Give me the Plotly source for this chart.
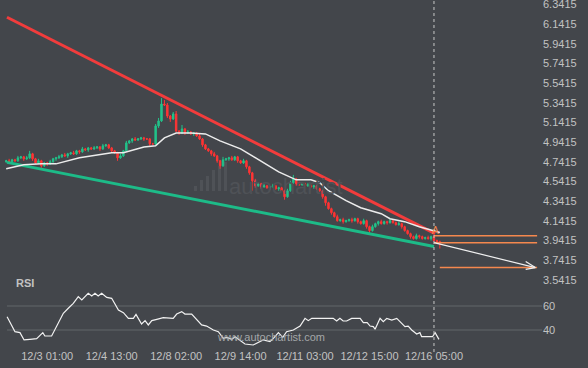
import plotly.graph_objects as go

# ---------------- data ----------------
first_open = 4.742
closes = [
    4.752, 4.742, 4.762, 4.752, 4.782, 4.792, 4.772, 4.782, 4.823, 4.772,
    4.731, 4.752, 4.701, 4.731, 4.721, 4.742, 4.772, 4.782, 4.792, 4.812,
    4.802, 4.823, 4.833, 4.823, 4.853, 4.843, 4.873, 4.863, 4.883, 4.873,
    4.883, 4.893, 4.873, 4.904, 4.914, 4.883, 4.853, 4.833, 4.782, 4.802,
    4.853, 4.934, 4.954, 4.974, 4.964, 4.974, 4.985, 4.974, 4.974, 4.924,
    4.924, 5.106, 5.157, 5.329, 5.319, 5.207, 5.177, 5.228, 5.055, 5.035,
    5.076, 5.035, 5.045, 5.025, 5.035, 5.005, 4.974, 4.914, 4.873, 4.853,
    4.823, 4.802, 4.752, 4.701, 4.762, 4.772, 4.782, 4.762, 4.792, 4.752,
    4.731, 4.752, 4.691, 4.630, 4.549, 4.498, 4.519, 4.488, 4.498, 4.478,
    4.488, 4.498, 4.468, 4.478, 4.448, 4.387, 4.448, 4.529, 4.569, 4.519,
    4.509, 4.519, 4.498, 4.509, 4.488, 4.498, 4.468, 4.448, 4.387, 4.326,
    4.266, 4.225, 4.185, 4.144, 4.154, 4.134, 4.144, 4.154, 4.144, 4.164,
    4.134, 4.114, 4.144, 4.083, 4.043, 4.083, 4.114, 4.134, 4.114, 4.134,
    4.124, 4.144, 4.124, 4.104, 4.114, 4.083, 4.043, 4.012, 3.982, 3.962,
    3.992, 3.982, 3.962, 3.972, 3.962, 3.982, 3.942, 3.931, 3.921,
]
wick_hi = [
    .01, .02, .01, .01, .02, .01, .01, .02, .03, .01,
    .01, .02, .01, .01, .01, .02, .01, .01, .02, .01,
    .02, .01, .01, .02, .01, .01, .02, .01, .01, .01,
    .02, .01, .01, .02, .01, .01, .01, .01, .01, .02,
    .01, .02, .01, .01, .02, .01, .01, .01, .01, .01,
    .01, .02, .03, .06, .04, .02, .01, .02, .03, .01,
    .04, .01, .02, .01, .01, .01, .02, .01, .01, .01,
    .01, .02, .01, .01, .03, .01, .01, .02, .01, .01,
    .01, .02, .01, .01, .01, .02, .01, .01, .02, .01,
    .01, .02, .01, .01, .01, .01, .02, .02, .04, .01,
    .02, .01, .01, .02, .01, .01, .01, .01, .01, .01,
    .01, .01, .01, .02, .01, .02, .01, .01, .02, .01,
    .01, .01, .02, .01, .01, .02, .01, .01, .02, .01,
    .01, .02, .01, .01, .02, .01, .01, .01, .01, .01,
    .02, .01, .01, .01, .02, .01, .01, .01, .01,
]
wick_lo = [
    .01, .01, .02, .01, .01, .01, .02, .01, .01, .02,
    .01, .01, .02, .01, .02, .01, .01, .02, .01, .01,
    .01, .02, .01, .01, .01, .02, .01, .01, .02, .01,
    .01, .01, .02, .01, .01, .01, .02, .01, .03, .01,
    .01, .01, .01, .02, .01, .01, .01, .02, .01, .02,
    .01, .01, .02, .01, .01, .02, .03, .01, .01, .02,
    .01, .02, .01, .01, .02, .01, .01, .02, .01, .01,
    .02, .01, .02, .03, .01, .01, .02, .01, .01, .02,
    .01, .01, .02, .02, .10, .02, .01, .02, .01, .01,
    .02, .01, .01, .02, .01, .03, .01, .01, .01, .02,
    .01, .01, .02, .01, .01, .02, .01, .01, .02, .03,
    .01, .02, .01, .01, .01, .02, .01, .01, .02, .01,
    .02, .01, .01, .02, .03, .01, .01, .02, .01, .01,
    .02, .01, .01, .01, .01, .02, .01, .01, .02, .01,
    .01, .02, .01, .01, .01, .02, .01, .01, .06,
]

ma_x = [0, 6, 12, 17, 25, 32, 36, 40, 47, 51, 54, 58, 63, 68, 73, 80, 87, 93,
        99, 104, 107, 110, 116, 121, 128, 131, 136, 141, 148]
ma_v = [4.671, 4.711, 4.721, 4.721, 4.782, 4.812, 4.833, 4.833, 4.893, 4.904,
        4.985, 5.035, 5.035, 5.025, 4.954, 4.873, 4.752, 4.640, 4.559, 4.559,
        4.529, 4.448, 4.347, 4.276, 4.215, 4.164, 4.134, 4.083, 4.023]

rsi_x = [0.3, 3, 4.7, 6.1, 8.1, 10.4, 12.5, 13.2, 15.5, 17.8, 19.5, 21.2, 22.9,
         24.6, 25.8, 28, 29.2, 30.3, 31.4, 32.6, 34.3, 36, 38.3, 40, 41.7, 43.4,
         44.3, 46.2, 47.4, 48.5, 49.7, 51.4, 53.6, 57, 58.2, 59.9, 61, 63.3, 65,
         66.7, 68.4, 69.6, 70.7, 72.4, 74.1, 75.3, 77, 78.1, 79.8, 81.5, 84.3,
         87.7, 90, 91.2, 92.9, 94.4, 95.7, 98, 100.3, 102, 103.1, 104.3, 111.6,
         112.8, 113.9, 115, 116.2, 117.9, 120.8, 121.9, 123.2, 124.2, 125.3,
         125.9, 127.6, 128.7, 129.9, 131.6, 133.3, 134.4, 136.1, 137.2, 138.4,
         140.1, 141.2, 141.8, 145.5, 146.4, 147.7]
rsi_v = [51.1, 38.6, 37.8, 31.7, 32.2, 32.8, 37.8, 35, 35, 45.6, 53.9, 58.1, 62.2,
         67.8, 65, 70.6, 68.3, 70.6, 68.3, 70.6, 67.2, 66.4, 56.7, 54.4, 49.7, 49.7,
         53, 45, 47.8, 44.2, 47.8, 48.9, 50.3, 49.7, 53.3, 55.3, 53.3, 53.3, 48.3,
         44.2, 43.3, 41.4, 40, 38.6, 33, 33.9, 32.2, 34.4, 31.7, 28.3, 27.5,
         31.7, 30.3, 33, 37.8, 33.9, 38.6, 40, 43.3, 49.7, 47.8, 49.7, 49.7,
         47.5, 49.7, 47.5, 47.5, 49.7, 49.7, 46.1, 46.1, 43.3, 42.8,
         40.6, 49.7, 46.9, 49.7, 48.3, 49.7, 46.9, 42.8, 43.3, 40,
         36.7, 37.8, 34.4, 34.4, 37.8, 32.2]

resist_x = [0.27, 146.4]
resist_y = [6.210, 4.012]
support_x = [0.27, 146.0]
support_y = [4.736, 3.881]

levels = [3.992, 3.921, 3.668]
levels_x0 = [146, 146, 148]
level_x1 = 181.2
forecast_x = [146, 180.6]
forecast_y = [3.921, 3.668]
signal_x, signal_y = 146.4, 4.043
now_index = 146

x_tickvals = [14, 36, 58, 80, 102, 124, 146]
x_ticktext = ["12/3 01:00", "12/4 13:00", "12/8 02:00", "12/9 14:00",
              "12/11 03:00", "12/12 15:00", "12/16 05:00"]
price_ticks = [3.5415, 3.7415, 3.9415, 4.1415, 4.3415, 4.5415, 4.7415, 4.9415,
               5.1415, 5.3415, 5.5415, 5.7415, 5.9415, 6.1415, 6.3415]
rsi_ticks = [40, 60]

# ---------------- style ----------------
BG = "#43464b"
GREEN = "#22c28a"
RED = "#ff3434"
TREND_RED = "#f23c3c"
TREND_GREEN = "#1dbb88"
ORANGE = "#f5884e"
TXT = "#c2c2c2"
FONT = "Liberation Sans, Arial, sans-serif"

opens = [first_open] + closes[:-1]
highs = [max(o, c) + w for o, c, w in zip(opens, closes, wick_hi)]
lows = [min(o, c) - w for o, c, w in zip(opens, closes, wick_lo)]
bars = list(range(len(closes)))

fig = go.Figure()

fig.add_trace(go.Scatter(x=support_x, y=support_y, mode="lines",
                         line=dict(color=TREND_GREEN, width=3), hoverinfo="skip"))
fig.add_trace(go.Scatter(x=resist_x, y=resist_y, mode="lines",
                         line=dict(color=TREND_RED, width=3), hoverinfo="skip"))
fig.add_trace(go.Candlestick(
    x=bars, open=opens, high=highs, low=lows, close=closes,
    increasing=dict(line=dict(color=GREEN, width=1), fillcolor=GREEN),
    decreasing=dict(line=dict(color=RED, width=1), fillcolor=RED),
    whiskerwidth=0, hoverinfo="skip"))
fig.add_trace(go.Scatter(x=ma_x, y=ma_v, mode="lines",
                         line=dict(color="#ececec", width=1.5), hoverinfo="skip"))

for lv, x0 in zip(levels, levels_x0):
    fig.add_trace(go.Scatter(x=[x0, level_x1], y=[lv, lv], mode="lines",
                             line=dict(color=ORANGE, width=1.5), hoverinfo="skip"))

# forecast arrow (shaft + open chevron head)
fig.add_trace(go.Scatter(x=forecast_x, y=forecast_y, mode="lines",
                         line=dict(color="#f0f0f0", width=1.2), hoverinfo="skip"))
HEAD_DX, HEAD_UP, HEAD_DN = 3.3, 0.062, 0.018
fig.add_trace(go.Scatter(
    x=[forecast_x[1] - HEAD_DX, forecast_x[1], forecast_x[1] - HEAD_DX],
    y=[forecast_y[1] + HEAD_UP, forecast_y[1], forecast_y[1] - HEAD_DN],
    mode="lines", line=dict(color="#f0f0f0", width=1.2), hoverinfo="skip"))

# RSI
fig.add_trace(go.Scatter(x=rsi_x, y=rsi_v, mode="lines", yaxis="y2",
                         line=dict(color="#f2f2f2", width=1.2), hoverinfo="skip"))

XR = 542 / 588
fig.update_layout(
    width=588, height=368,
    margin=dict(l=0, r=0, t=0, b=0),
    paper_bgcolor=BG, plot_bgcolor=BG,
    showlegend=False,
    font=dict(family=FONT, color=TXT, size=11),
    xaxis=dict(domain=[0, XR], range=[-2.116, 182.87], anchor="y2",
               tickvals=x_tickvals, ticktext=x_ticktext, showgrid=False,
               zeroline=False, showline=False, ticks="", automargin=False,
               rangeslider=dict(visible=False),
               tickfont=dict(size=11, color=TXT)),
    yaxis=dict(domain=[1 - 282 / 368, 1], range=[3.5212, 6.3852], side="right",
               anchor="x", tickvals=price_ticks,
               ticktext=[f"{v:.4f}" for v in price_ticks],
               ticklabeloverflow="allow",
               showgrid=False, zeroline=False, showline=False, ticks="",
               automargin=False, tickfont=dict(size=11, color=TXT)),
    yaxis2=dict(domain=[1 - 348 / 368, 1 - 283 / 368], range=[25, 79.17],
                side="right", anchor="x", tickvals=rsi_ticks,
                showgrid=False, zeroline=False, showline=False, ticks="",
                automargin=False, tickfont=dict(size=11, color=TXT)),
)

shapes = [dict(type="line", xref="x", yref="paper", x0=now_index, x1=now_index,
               y0=1 - 352 / 368, y1=1,
               line=dict(color="#c8c8c8", width=1, dash="3px,3px"))]
for t in rsi_ticks:
    shapes.append(dict(type="line", xref="paper", yref="y2", x0=7 / 588, x1=XR,
                       y0=t, y1=t, line=dict(color="#63666a", width=1), layer="below"))
# faint watermark logo bars (decoration)
for k, top in enumerate([186, 180, 176, 170, 166, 162]):
    shapes.append(dict(type="rect", xref="paper", yref="paper", layer="below",
                       x0=(194 + 6 * k) / 588, x1=(197 + 6 * k) / 588,
                       y0=1 - 191 / 368, y1=1 - top / 368,
                       fillcolor="#4f5257", line=dict(width=0)))
fig.update_layout(shapes=shapes)

fig.add_annotation(x=signal_x, y=signal_y, xref="x", yref="y", text="A",
                   showarrow=False, font=dict(color=ORANGE, size=10))
fig.add_annotation(x=14 / 588, y=1 - 291 / 368, xref="paper", yref="paper",
                   text="<b>RSI</b>", showarrow=False, xanchor="left",
                   font=dict(color=TXT, size=11))
fig.add_annotation(x=271 / 588, y=1 - 345 / 368, xref="paper", yref="paper",
                   text="www.autochartist.com", showarrow=False,
                   font=dict(color="#a3a6a9", size=11))
fig.add_annotation(x=286 / 588, y=1 - 186 / 368, xref="paper", yref="paper",
                   text="autochartist", showarrow=False,
                   font=dict(color="#4f5257", size=22))

fig.write_html("out.html",
               config={"displayModeBar": False, "staticPlot": True},
               post_script="document.body.style.margin='0';"
                           "document.body.style.overflow='hidden';")
